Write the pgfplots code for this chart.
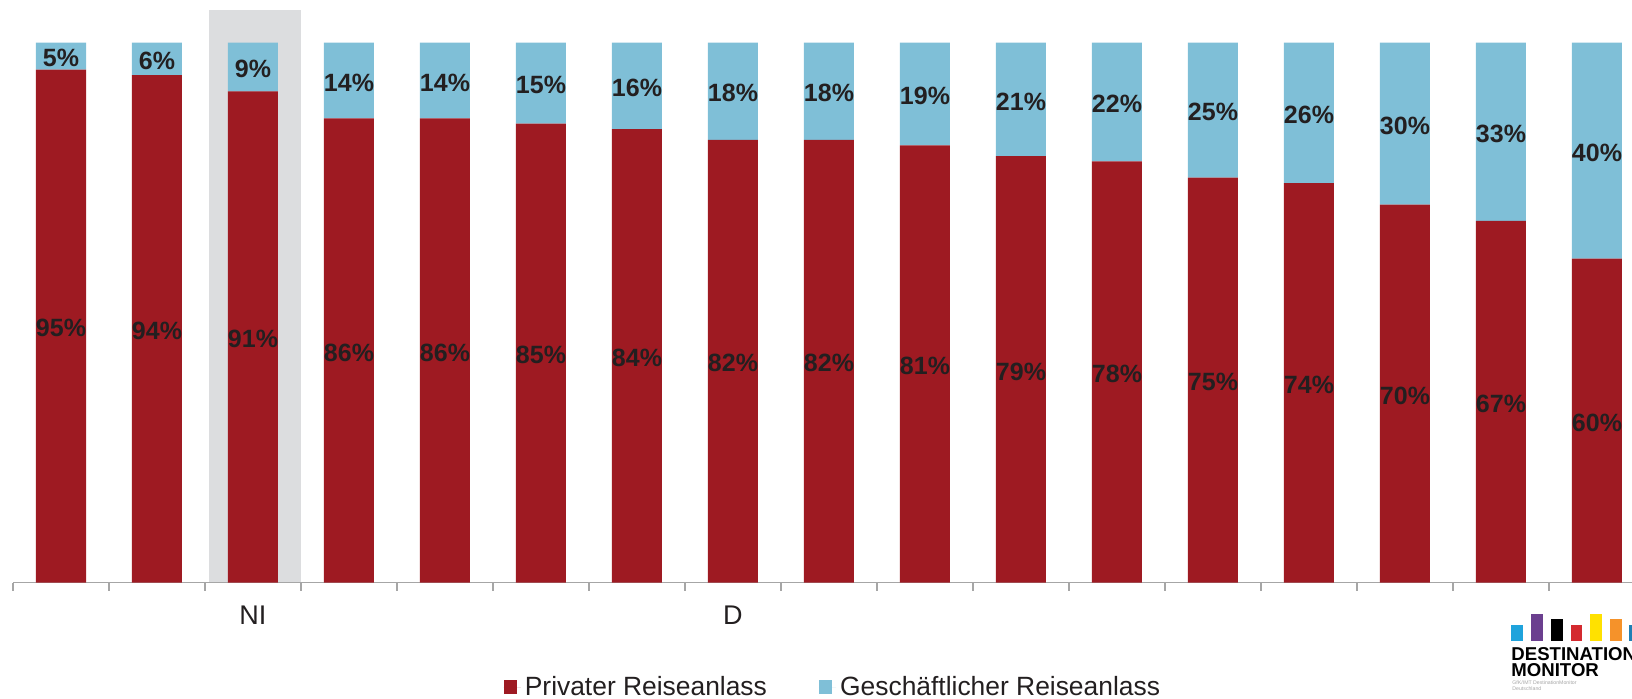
\documentclass[border=0pt]{standalone}
\usepackage{fontspec}
\setmainfont{Liberation Sans}
\usepackage{pgfplots}
\pgfplotsset{compat=1.18}
\usepackage{pgfplotstable}

\definecolor{privcol}{HTML}{9E1A22}
\definecolor{buscol}{HTML}{7FBFD7}
\definecolor{hlgray}{HTML}{DCDDDF}
\definecolor{axisgray}{HTML}{A6A6A6}
\definecolor{labeltext}{HTML}{231F20}
\definecolor{lgcyan}{HTML}{1FA3DC}
\definecolor{lgpurple}{HTML}{6B3F8F}
\definecolor{lgred}{HTML}{D42A2F}
\definecolor{lgyellow}{HTML}{FFE100}
\definecolor{lgorange}{HTML}{F5922A}
\definecolor{lgblue}{HTML}{1F7FB5}

\pgfplotstableread{
x priv bus
0 95 5
1 94 6
2 91 9
3 86 14
4 86 14
5 85 15
6 84 16
7 82 18
8 82 18
9 81 19
10 79 21
11 78 22
12 75 25
13 74 26
14 70 30
15 67 33
16 60 40
}\datatable

\pgfplotsset{
  frame/.style={
    at={(6.5pt,-291.35pt)}, anchor=south west,
    scale only axis, width=809.5pt, height=291.35pt,
    xmin=-0.5, xmax=16.365, ymin=0, ymax=107.9,
  }
}

\begin{document}
\begin{tikzpicture}
% highlight behind the NI column
\begin{axis}[frame, hide axis]
\fill[hlgray] (axis cs:1.542,0) rectangle (axis cs:2.5,106.1);
\end{axis}

\begin{axis}[
  frame,
  ybar stacked, bar width=25pt,
  axis x line*=bottom, axis y line=none,
  axis line style={draw=axisgray, line width=0.7pt},
  xtick={-0.5,0.5,...,15.5}, xticklabels={},
  tick align=outside, major tick length=4pt,
  tick style={draw=axisgray, line width=0.7pt},
  extra x ticks={2,7}, extra x tick labels={NI,D},
  extra x tick style={major tick length=0pt,
    tick label style={anchor=base, yshift=-21pt, font=\fontsize{13.5}{16}\selectfont, text=labeltext}},
  legend style={at={(0.507,-0.1795)}, anchor=center, draw=none, fill=none,
    font=\fontsize{13.2}{14}\selectfont, text=labeltext, inner sep=0pt,
    nodes={inner sep=2pt},
    /tikz/every even column/.append style={column sep=24pt}},
  legend columns=2, legend cell align=left,
  legend image code/.code={\fill (0pt,-3.5pt) rectangle (6.6pt,3.5pt); \path (0pt,0pt) -- (8.6pt,0pt);},
]
\addplot[fill=privcol, draw=none] table[x=x, y=priv]{\datatable};
\addlegendentry{Privater Reiseanlass}
\addplot[fill=buscol, draw=none] table[x=x, y=bus]{\datatable};
\addlegendentry{Geschäftlicher Reiseanlass}
\end{axis}

\begin{axis}[
  frame,
  hide axis, clip=false,
  /pgf/number format/assume math mode=true,
  nodes near coords={\pgfmathprintnumber{\pgfplotspointmeta}\%},
  every node near coord/.append style={anchor=center, yshift=-1pt,
    font=\bfseries\fontsize{12.5}{15}\selectfont, text=labeltext},
]
\addplot[draw=none, mark=none, point meta=\thisrow{priv}] table[x=x, y expr=\thisrow{priv}/2]{\datatable};
\addplot[draw=none, mark=none, point meta=\thisrow{bus}] table[x=x, y expr=\thisrow{priv}+\thisrow{bus}/2]{\datatable};
\end{axis}

% logo (decoration)
\begin{scope}[x=0.5pt, y=-0.5pt]
\fill[lgcyan] (1511,625) rectangle (1523,641);
\fill[lgpurple] (1531,614) rectangle (1543,641);
\fill[black] (1551,619) rectangle (1563,641);
\fill[lgred] (1571,625) rectangle (1582,641);
\fill[lgyellow] (1590,614) rectangle (1602,641);
\fill[lgorange] (1610,619) rectangle (1622,641);
\fill[lgblue] (1629,625) rectangle (1641,641);
\node[anchor=base west, inner sep=0pt, font=\bfseries\fontsize{9.3}{10}\selectfont, text depth=0pt] at (1511,660) {DESTINATION};
\node[anchor=base west, inner sep=0pt, font=\bfseries\fontsize{9.3}{10}\selectfont, text depth=0pt, text height=6pt] at (1511,676) {MONITOR};
\node[anchor=base west, inner sep=0pt, font=\fontsize{2.6}{3}\selectfont, text=gray!70, text height=1.6pt, text depth=0pt] at (1512,684) {GfK/IMT DestinationMonitor};
\node[anchor=base west, inner sep=0pt, font=\fontsize{2.6}{3}\selectfont, text=gray!70, text height=1.6pt, text depth=0pt] at (1512,690) {Deutschland};
\end{scope}

\pgfresetboundingbox
\path[use as bounding box] (0,0) rectangle (816pt,-349pt);
\end{tikzpicture}
\end{document}
